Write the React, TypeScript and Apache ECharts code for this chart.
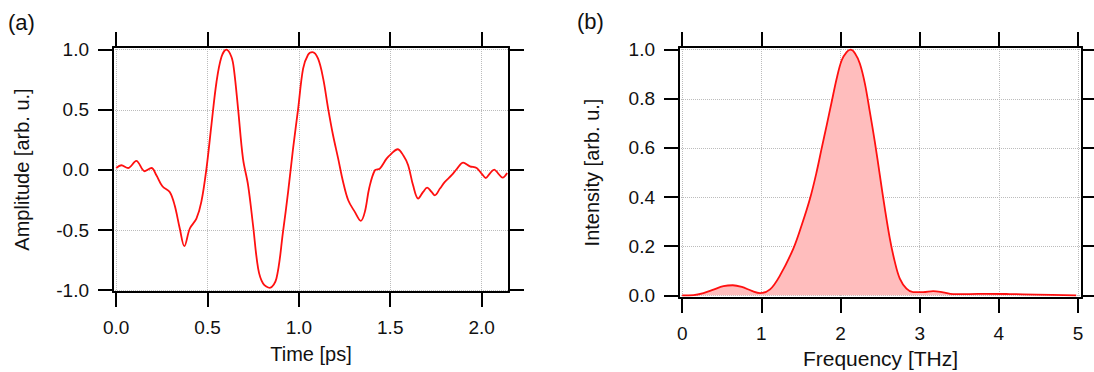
import React, { useEffect, useRef } from "react";
import * as echarts from "echarts";

const timePs = [0.0, 0.028, 0.065, 0.11, 0.156, 0.193, 0.22, 0.253, 0.293, 0.32, 0.348, 0.373, 0.403, 0.439, 0.466, 0.494, 0.521, 0.549, 0.576, 0.603, 0.631, 0.645, 0.667, 0.694, 0.722, 0.749, 0.777, 0.804, 0.841, 0.877, 0.913, 0.941, 0.968, 0.996, 1.023, 1.05, 1.074, 1.105, 1.133, 1.16, 1.187, 1.215, 1.242, 1.27, 1.306, 1.339, 1.361, 1.385, 1.416, 1.443, 1.48, 1.507, 1.54, 1.571, 1.598, 1.625, 1.653, 1.68, 1.702, 1.726, 1.744, 1.772, 1.799, 1.836, 1.866, 1.899, 1.936, 1.973, 2.0, 2.023, 2.045, 2.069, 2.091, 2.115, 2.14];
const amplitude = [0.016, 0.039, 0.016, 0.075, -0.011, 0.016, -0.044, -0.136, -0.183, -0.294, -0.487, -0.634, -0.487, -0.405, -0.266, 0.011, 0.371, 0.731, 0.939, 1.0, 0.939, 0.83, 0.51, 0.094, -0.128, -0.46, -0.82, -0.944, -0.98, -0.903, -0.515, -0.183, 0.177, 0.51, 0.842, 0.958, 0.98, 0.925, 0.759, 0.51, 0.288, 0.094, -0.1, -0.252, -0.349, -0.424, -0.349, -0.15, -0.003, 0.011, 0.094, 0.136, 0.172, 0.122, 0.039, -0.128, -0.238, -0.183, -0.147, -0.183, -0.211, -0.155, -0.1, -0.044, 0.011, 0.061, 0.03, 0.016, -0.03, -0.067, -0.03, 0.003, -0.03, -0.064, -0.025];

const freqTHz = [0, 0.143, 0.269, 0.395, 0.521, 0.639, 0.753, 0.879, 0.984, 1.11, 1.236, 1.404, 1.509, 1.614, 1.698, 1.761, 1.825, 1.888, 1.951, 2.014, 2.077, 2.127, 2.182, 2.245, 2.308, 2.371, 2.434, 2.497, 2.56, 2.623, 2.686, 2.749, 2.833, 2.917, 3.043, 3.17, 3.295, 3.421, 3.632, 3.842, 4.136, 4.473, 4.977];
const intensity = [0, 0.001, 0.009, 0.023, 0.037, 0.041, 0.034, 0.018, 0.009, 0.024, 0.081, 0.19, 0.285, 0.393, 0.502, 0.597, 0.692, 0.787, 0.882, 0.956, 0.99, 1.0, 0.986, 0.943, 0.862, 0.746, 0.624, 0.488, 0.353, 0.231, 0.136, 0.068, 0.027, 0.013, 0.013, 0.017, 0.012, 0.005, 0.005, 0.006, 0.005, 0.003, 0.0];

const timeTicks = [0, 0.5, 1, 1.5, 2];
const ampTicks = [-1, -0.5, 0, 0.5, 1];
const freqTicks = [0, 1, 2, 3, 4, 5];
const intTicks = [0, 0.2, 0.4, 0.6, 0.8, 1.0];

const FONT = "'Liberation Sans', Arial, sans-serif";
const lineStyleAxis = { color: "#000", width: 2 };
const gridLine = { show: true, lineStyle: { type: "dotted" as const, color: "#bcbcbc", width: 1 } };

function mainAxis(gridIndex: number, pos: string, min: number, max: number, ticks: number[], name: string, nameGap: number, labelMargin: number, fmt: (v: number) => string, nameSize: number) {
  return {
    type: "value",
    gridIndex,
    position: pos,
    min,
    max,
    name,
    nameLocation: "middle",
    nameGap,
    nameTextStyle: { fontSize: nameSize, fontFamily: FONT, color: "#111" },
    axisLine: { show: true, onZero: false, lineStyle: lineStyleAxis },
    axisTick: { show: true, inside: false, length: 15, customValues: ticks, lineStyle: lineStyleAxis },
    axisLabel: { show: true, customValues: ticks, formatter: fmt, margin: labelMargin, fontSize: 19, fontFamily: FONT, color: "#111" },
    splitLine: gridLine,
  };
}

function mirrorAxis(gridIndex: number, pos: string, min: number, max: number, ticks: number[]) {
  return {
    type: "value",
    gridIndex,
    position: pos,
    min,
    max,
    axisLine: { show: true, onZero: false, lineStyle: lineStyleAxis },
    axisTick: { show: true, inside: false, length: 15, customValues: ticks, lineStyle: lineStyleAxis },
    axisLabel: { show: false },
    splitLine: { show: false },
  };
}

export default function App() {
  const ref = useRef<HTMLDivElement>(null);
  useEffect(() => {
    if (!ref.current) return;
    const chart = echarts.init(ref.current, null, { renderer: "svg" });
    const f1 = (v: number) => v.toFixed(1);
    const f0 = (v: number) => String(Math.round(v));
    chart.setOption({
      animation: false,
      backgroundColor: "#fff",
      grid: [
        { left: 113, top: 47, width: 396, height: 245, outerBoundsMode: "none", containLabel: false },
        { left: 679, top: 47, width: 403, height: 251, outerBoundsMode: "none", containLabel: false },
      ],
      xAxis: [
        mainAxis(0, "bottom", -0.0175, 2.15, timeTicks, "Time [ps]", 52, 26, f1, 20),
        mirrorAxis(0, "top", -0.0175, 2.15, timeTicks),
        mainAxis(1, "bottom", -0.04, 5.05, freqTicks, "Frequency [THz]", 50, 26, f0, 21),
        mirrorAxis(1, "top", -0.04, 5.05, freqTicks),
      ],
      yAxis: [
        mainAxis(0, "left", -1.015, 1.022, ampTicks, "Amplitude [arb. u.]", 81, 24, f1, 20),
        mirrorAxis(0, "right", -1.015, 1.022, ampTicks),
        mainAxis(1, "left", -0.011, 1.011, intTicks, "Intensity [arb. u.]", 77, 24, f1, 20),
        mirrorAxis(1, "right", -0.011, 1.011, intTicks),
      ],
      graphic: [
        { type: "text", left: 8, top: 11, style: { text: "(a)", font: `22px ${FONT}`, fill: "#111" } },
        { type: "text", left: 577, top: 10, style: { text: "(b)", font: `22px ${FONT}`, fill: "#111" } },
      ],
      series: [
        {
          type: "line",
          xAxisIndex: 0,
          yAxisIndex: 0,
          data: timePs.map((t, i) => [t, amplitude[i]]),
          showSymbol: false,
          smooth: 0.35,
          lineStyle: { color: "#ff1010", width: 1.8 },
        },
        {
          type: "line",
          xAxisIndex: 2,
          yAxisIndex: 2,
          data: freqTHz.map((f, i) => [f, intensity[i]]),
          showSymbol: false,
          smooth: 0.35,
          lineStyle: { color: "#ff1010", width: 1.8 },
          areaStyle: { color: "#ffbdbd", opacity: 1 },
        },
      ],
    });
    return () => chart.dispose();
  }, []);
  return <div ref={ref} style={{ position: "fixed", left: 0, top: 0, width: 1094, height: 372, background: "#fff" }} />;
}
